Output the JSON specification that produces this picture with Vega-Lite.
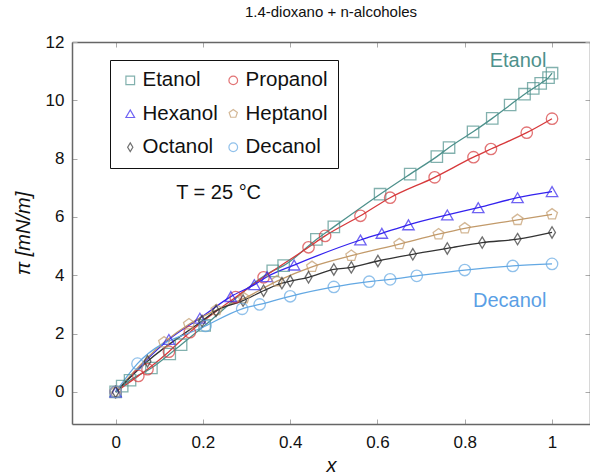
{
  "$schema": "https://vega.github.io/schema/vega-lite/v6.json",
  "width": 518,
  "height": 382,
  "autosize": {"type": "none"},
  "padding": {"left": 72, "top": 42, "right": 0, "bottom": 51},
  "title": {"text": "1.4-dioxano + n-alcoholes", "fontSize": 15, "fontWeight": "normal", "font": "Liberation Sans", "color": "#111", "offset": 13},
  "config": {
    "font": "Liberation Sans",
    "view": {"stroke": null},
    "axis": {"grid": false, "domainColor": "#666", "domainWidth": 1.5, "tickColor": "#aaa", "tickSize": -5, "tickWidth": 1, "labelFontSize": 17, "labelColor": "#111", "titleColor": "#111", "titleFontSize": 20, "titleFontWeight": "normal"}
  },
  "datasets": {
    "d": [
      {"name": "Etanol", "x": 0, "y": 0},
      {"name": "Etanol", "x": 0.015, "y": 0.2},
      {"name": "Etanol", "x": 0.033, "y": 0.4},
      {"name": "Etanol", "x": 0.082, "y": 0.82},
      {"name": "Etanol", "x": 0.124, "y": 1.3},
      {"name": "Etanol", "x": 0.15, "y": 1.62},
      {"name": "Etanol", "x": 0.204, "y": 2.28},
      {"name": "Etanol", "x": 0.36, "y": 4.15},
      {"name": "Etanol", "x": 0.385, "y": 4.33},
      {"name": "Etanol", "x": 0.46, "y": 5.23},
      {"name": "Etanol", "x": 0.5, "y": 5.66},
      {"name": "Etanol", "x": 0.606, "y": 6.78},
      {"name": "Etanol", "x": 0.675, "y": 7.47},
      {"name": "Etanol", "x": 0.736, "y": 8.07},
      {"name": "Etanol", "x": 0.764, "y": 8.38},
      {"name": "Etanol", "x": 0.819, "y": 8.92},
      {"name": "Etanol", "x": 0.863, "y": 9.38},
      {"name": "Etanol", "x": 0.904, "y": 9.84},
      {"name": "Etanol", "x": 0.937, "y": 10.21},
      {"name": "Etanol", "x": 0.957, "y": 10.41},
      {"name": "Etanol", "x": 0.974, "y": 10.58},
      {"name": "Etanol", "x": 0.992, "y": 10.78},
      {"name": "Etanol", "x": 1.0, "y": 10.93},
      {"name": "Propanol", "x": 0, "y": 0},
      {"name": "Propanol", "x": 0.052, "y": 0.55},
      {"name": "Propanol", "x": 0.073, "y": 0.78},
      {"name": "Propanol", "x": 0.122, "y": 1.38},
      {"name": "Propanol", "x": 0.17, "y": 2.05},
      {"name": "Propanol", "x": 0.275, "y": 3.25},
      {"name": "Propanol", "x": 0.339, "y": 3.93},
      {"name": "Propanol", "x": 0.442, "y": 4.96},
      {"name": "Propanol", "x": 0.48, "y": 5.35},
      {"name": "Propanol", "x": 0.561, "y": 6.04},
      {"name": "Propanol", "x": 0.629, "y": 6.66},
      {"name": "Propanol", "x": 0.731, "y": 7.36},
      {"name": "Propanol", "x": 0.82, "y": 8.05},
      {"name": "Propanol", "x": 0.86, "y": 8.33},
      {"name": "Propanol", "x": 0.942, "y": 8.89},
      {"name": "Propanol", "x": 1.0, "y": 9.37},
      {"name": "Hexanol", "x": 0, "y": 0},
      {"name": "Hexanol", "x": 0.122, "y": 1.8},
      {"name": "Hexanol", "x": 0.193, "y": 2.53},
      {"name": "Hexanol", "x": 0.264, "y": 3.27},
      {"name": "Hexanol", "x": 0.318, "y": 3.68},
      {"name": "Hexanol", "x": 0.347, "y": 3.95},
      {"name": "Hexanol", "x": 0.409, "y": 4.35},
      {"name": "Hexanol", "x": 0.561, "y": 5.21},
      {"name": "Hexanol", "x": 0.61, "y": 5.44},
      {"name": "Hexanol", "x": 0.671, "y": 5.73},
      {"name": "Hexanol", "x": 0.76, "y": 6.07},
      {"name": "Hexanol", "x": 0.831, "y": 6.32},
      {"name": "Hexanol", "x": 0.921, "y": 6.66},
      {"name": "Hexanol", "x": 1.0, "y": 6.87},
      {"name": "Heptanol", "x": 0, "y": 0},
      {"name": "Heptanol", "x": 0.111, "y": 1.7},
      {"name": "Heptanol", "x": 0.168, "y": 2.32},
      {"name": "Heptanol", "x": 0.231, "y": 2.81},
      {"name": "Heptanol", "x": 0.294, "y": 3.21},
      {"name": "Heptanol", "x": 0.37, "y": 3.8},
      {"name": "Heptanol", "x": 0.45, "y": 4.29},
      {"name": "Heptanol", "x": 0.54, "y": 4.67},
      {"name": "Heptanol", "x": 0.65, "y": 5.07},
      {"name": "Heptanol", "x": 0.74, "y": 5.41},
      {"name": "Heptanol", "x": 0.80, "y": 5.61},
      {"name": "Heptanol", "x": 0.921, "y": 5.9},
      {"name": "Heptanol", "x": 1.0, "y": 6.09},
      {"name": "Octanol", "x": 0, "y": 0},
      {"name": "Octanol", "x": 0.073, "y": 1.05},
      {"name": "Octanol", "x": 0.198, "y": 2.43},
      {"name": "Octanol", "x": 0.23, "y": 2.78},
      {"name": "Octanol", "x": 0.292, "y": 3.13},
      {"name": "Octanol", "x": 0.339, "y": 3.47},
      {"name": "Octanol", "x": 0.381, "y": 3.73},
      {"name": "Octanol", "x": 0.40, "y": 3.8},
      {"name": "Octanol", "x": 0.442, "y": 3.93},
      {"name": "Octanol", "x": 0.5, "y": 4.2},
      {"name": "Octanol", "x": 0.54, "y": 4.27},
      {"name": "Octanol", "x": 0.601, "y": 4.49},
      {"name": "Octanol", "x": 0.681, "y": 4.72},
      {"name": "Octanol", "x": 0.76, "y": 4.92},
      {"name": "Octanol", "x": 0.84, "y": 5.12},
      {"name": "Octanol", "x": 0.921, "y": 5.24},
      {"name": "Octanol", "x": 1.0, "y": 5.47},
      {"name": "Decanol", "x": 0, "y": 0},
      {"name": "Decanol", "x": 0.05, "y": 0.97},
      {"name": "Decanol", "x": 0.206, "y": 2.26},
      {"name": "Decanol", "x": 0.29, "y": 2.85},
      {"name": "Decanol", "x": 0.33, "y": 3.0},
      {"name": "Decanol", "x": 0.40, "y": 3.28},
      {"name": "Decanol", "x": 0.5, "y": 3.6},
      {"name": "Decanol", "x": 0.581, "y": 3.78},
      {"name": "Decanol", "x": 0.629, "y": 3.86},
      {"name": "Decanol", "x": 0.69, "y": 3.98},
      {"name": "Decanol", "x": 0.80, "y": 4.18},
      {"name": "Decanol", "x": 0.91, "y": 4.32},
      {"name": "Decanol", "x": 1.0, "y": 4.39}
    ],
    "labels": [
      {"text": "Etanol", "x": 0.922, "y": 11.36, "c": "#4e918c", "size": 20},
      {"text": "Decanol", "x": 0.903, "y": 3.13, "c": "#5b9fe5", "size": 20},
      {"text": "T = 25 °C", "x": 0.236, "y": 6.81, "c": "#111111", "size": 20}
    ]
  },
  "resolve": {"axis": {"x": "independent", "y": "independent"}},
  "layer": [
    {
      "layer": [
        {
          "data": {"name": "d"},
          "mark": {"type": "line", "interpolate": "monotone", "strokeWidth": 1.3},
          "encoding": {
            "x": {"field": "x", "type": "quantitative", "scale": {"domain": [-0.1, 1.087], "nice": false, "zero": false},
                  "axis": {"orient": "bottom", "values": [0, 0.2, 0.4, 0.6, 0.8, 1], "format": "~g", "title": "x", "titleFontStyle": "italic", "labelPadding": 15, "titlePadding": 5}},
            "y": {"field": "y", "type": "quantitative", "scale": {"domain": [-1.1, 12], "nice": false, "zero": false},
                  "axis": {"orient": "left", "values": [0, 2, 4, 6, 8, 10, 12], "title": "π [mN/m]", "titleFontStyle": "italic", "labelPadding": 13, "titlePadding": 12}},
            "color": {"field": "name", "type": "nominal", "title": null,
                      "scale": {"domain": ["Etanol", "Propanol", "Hexanol", "Heptanol", "Octanol", "Decanol"],
                                "range": ["#4e918c", "#d7393b", "#3322ee", "#c29a6a", "#333333", "#63a8e3"]}},
            "detail": {"field": "name"}
          }
        },
        {
          "data": {"name": "d"},
          "mark": {"type": "point", "filled": false, "size": 130, "strokeWidth": 1.3},
          "encoding": {
            "x": {"field": "x", "type": "quantitative"},
            "y": {"field": "y", "type": "quantitative"},
            "color": {"field": "name", "type": "nominal", "title": null,
                      "scale": {"domain": ["Etanol", "Propanol", "Hexanol", "Heptanol", "Octanol", "Decanol"],
                                "range": ["#4e918c", "#d7393b", "#3322ee", "#c29a6a", "#333333", "#63a8e3"]},
                      "legend": {"orient": "none", "direction": "horizontal", "legendX": 38, "legendY": 18, "columns": 2, "strokeColor": "#111", "fillColor": "white", "padding": 10, "labelFontSize": 20.5, "labelColor": "#111", "symbolSize": 75, "symbolStrokeWidth": 1.2, "rowPadding": 12.5, "columnPadding": 5, "labelOffset": 2}},
            "shape": {"field": "name", "type": "nominal", "title": null,
                      "scale": {"domain": ["Etanol", "Propanol", "Hexanol", "Heptanol", "Octanol", "Decanol"],
                                "range": ["square", "circle", "triangle-up", "M0,-1L0.951,-0.309L0.588,0.809L-0.588,0.809L-0.951,-0.309Z", "M0,-1L0.6,0L0,1L-0.6,0Z", "circle"]}}
          }
        },
        {
          "data": {"name": "labels"},
          "mark": {"type": "text", "align": "center", "baseline": "middle"},
          "encoding": {
            "x": {"field": "x", "type": "quantitative"},
            "y": {"field": "y", "type": "quantitative"},
            "text": {"field": "text"},
            "color": {"field": "c", "type": "nominal", "scale": null},
            "size": {"field": "size", "type": "quantitative", "scale": null}
          }
        }
      ]
    },
    {
      "data": {"name": "d"},
      "mark": {"type": "point", "opacity": 0},
      "encoding": {
        "x": {"field": "x", "type": "quantitative", "axis": {"orient": "top", "values": [0, 0.2, 0.4, 0.6, 0.8, 1], "labels": false, "title": null}},
        "y": {"field": "y", "type": "quantitative", "axis": {"orient": "right", "values": [0, 2, 4, 6, 8, 10, 12], "labels": false, "title": null}}
      }
    }
  ]
}
